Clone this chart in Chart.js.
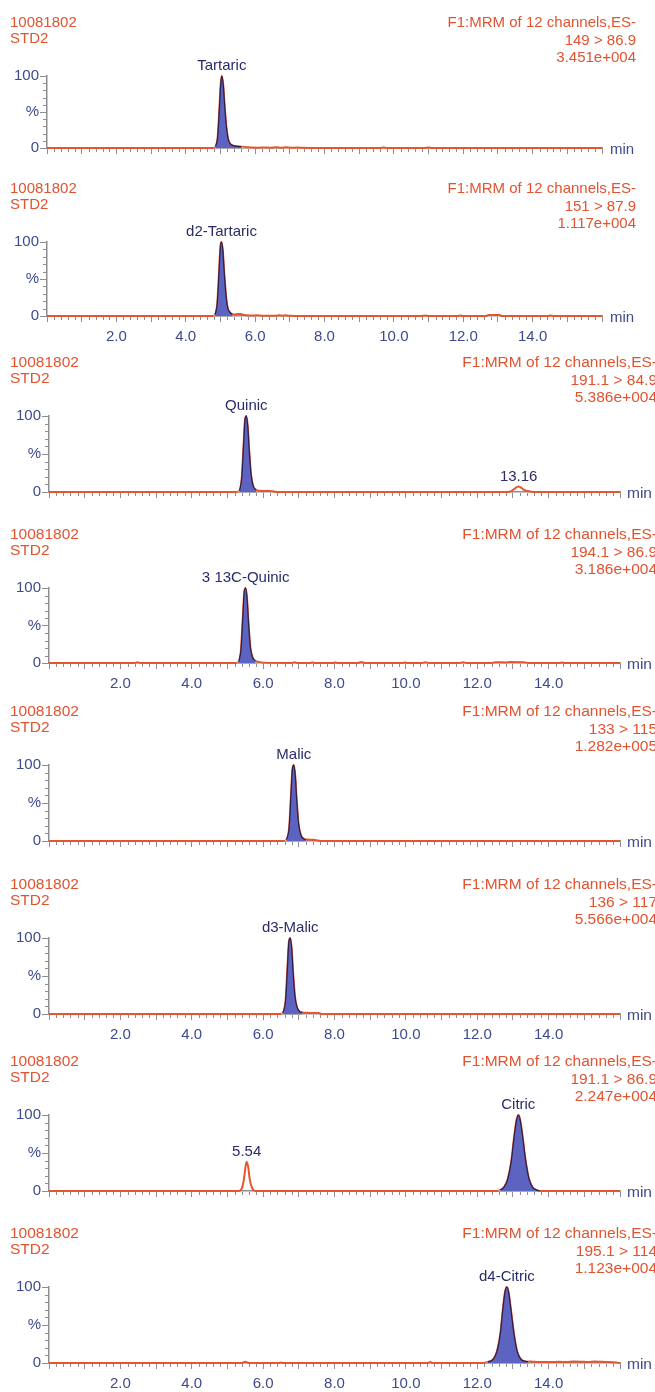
<!DOCTYPE html>
<html>
<head>
<meta charset="utf-8">
<script src="https://cdn.jsdelivr.net/npm/chart.js@4.4.0/dist/chart.umd.min.js"></script>
<style>
  body { margin: 0; background: #fff; width: 655px; height: 1392px; overflow: hidden; position: relative; }
  canvas { position: absolute; left: 0; }
</style>
</head>
<body>
<script>
// Chromatogram data (time in min, response in %)

const sampleName = '10081802'
const sampleId = 'STD2'
const scanTitle = 'F1:MRM of 12 channels,ES-'

const peakNames = ['Tartaric', 'd2-Tartaric', 'Quinic', '3 13C-Quinic', 'Malic', 'd3-Malic', 'Citric', 'd4-Citric']
const transitions = ['149 > 86.9', '151 > 87.9', '191.1 > 84.9', '194.1 > 86.9', '133 > 115', '136 > 117', '191.1 > 86.9', '195.1 > 114']
const intensities = ['3.451e+004', '1.117e+004', '5.386e+004', '3.186e+004', '1.282e+005', '5.566e+004', '2.247e+004', '1.123e+004']

const tartaricTime = [0, 4.80, 4.86, 4.92, 4.97, 5.01, 5.04, 5.08, 5.12, 5.17, 5.22, 5.28, 5.35, 5.45, 5.6, 5.75, 5.9, 6.1, 6.3, 6.45, 6.6, 6.75, 6.9, 7.05, 7.2, 7.35, 7.6, 9.6, 9.7, 9.8, 10.9, 11.0, 11.1, 16]
const tartaricPct = [0, 0, 2, 15, 55, 90, 100, 88, 60, 30, 13, 6, 3.5, 2.5, 1.8, 1.2, 0.6, 0.4, 0.8, 0.3, 0.9, 0.3, 0.9, 0.2, 0.8, 0.2, 0, 0, 0.7, 0, 0, 0.7, 0, 0]

const d2TartaricTime = [0, 4.78, 4.85, 4.91, 4.96, 5.0, 5.03, 5.07, 5.11, 5.16, 5.21, 5.27, 5.34, 5.42, 5.5, 5.58, 5.66, 5.75, 5.9, 6.05, 6.2, 6.35, 6.6, 6.7, 6.8, 6.88, 6.96, 7.05, 7.2, 10.8, 10.9, 11.0, 11.85, 11.92, 12.0, 12.65, 12.72, 13.05, 13.12, 14.45, 14.52, 14.6, 16]
const d2TartaricPct = [0, 0, 2, 18, 60, 94, 100, 88, 58, 28, 11, 5, 2.5, 2, 2.8, 2.6, 1.6, 1, 0.7, 0.9, 0.4, 0.2, 0.2, 0.9, 0.3, 0.9, 0.3, 0.2, 0, 0, 0.8, 0, 0, 0.6, 0, 0, 1.3, 1.3, 0, 0, 0.8, 0, 0]

const quinicTime = [0, 5.26, 5.34, 5.40, 5.45, 5.49, 5.53, 5.57, 5.61, 5.66, 5.72, 5.8, 5.9, 6.0, 6.1, 6.2, 6.3, 6.4, 12.85, 12.95, 13.05, 13.12, 13.16, 13.22, 13.3, 13.38, 13.45, 13.55, 16]
const quinicPct = [0, 0, 2, 18, 60, 94, 100, 86, 55, 24, 8, 3, 1.6, 1.4, 1.5, 1.4, 0.8, 0, 0, 1.2, 4.5, 6.8, 7.2, 6, 3, 1.5, 1, 0, 0]

const c13QuinicTime = [0, 2.4, 2.48, 2.56, 5.24, 5.32, 5.38, 5.43, 5.47, 5.51, 5.55, 5.59, 5.64, 5.7, 5.78, 5.88, 6.0, 6.8, 6.88, 6.96, 7.3, 7.38, 7.46, 7.95, 8.02, 8.1, 8.65, 8.75, 8.85, 9.9, 9.98, 10.06, 10.45, 10.55, 10.65, 11.5, 11.6, 11.7, 12.4, 12.5, 12.8, 12.9, 13.3, 13.45, 14.3, 14.38, 14.46, 16]
const c13QuinicPct = [0, 0, 1, 0, 0, 2, 18, 60, 94, 100, 86, 54, 22, 8, 3, 1.5, 0.5, 0, 0.9, 0, 0, 0.8, 0, 0, 0.6, 0, 0, 1.2, 0, 0, 0.7, 0, 0, 1.1, 0, 0, 0.9, 0, 0, 1, 0.8, 1.2, 1, 0, 0, 0.6, 0, 0]

const malicTime = [0, 6.58, 6.66, 6.73, 6.78, 6.82, 6.86, 6.9, 6.94, 6.99, 7.05, 7.12, 7.2, 7.3, 7.4, 7.5, 7.6, 16]
const malicPct = [0, 0, 2, 18, 60, 94, 100, 86, 55, 24, 9, 3.5, 2, 1.8, 1.6, 1, 0, 0]

const d3MalicTime = [0, 6.48, 6.56, 6.63, 6.68, 6.72, 6.76, 6.8, 6.84, 6.89, 6.95, 7.02, 7.1, 7.25, 7.4, 7.55, 7.65, 16]
const d3MalicPct = [0, 0, 2, 18, 60, 94, 100, 86, 55, 24, 9, 3.5, 2, 1.5, 1.4, 1.2, 0, 0]

const citricTime = [0, 5.32, 5.4, 5.46, 5.51, 5.54, 5.58, 5.63, 5.7, 5.78, 12.55, 12.65, 12.75, 12.85, 12.95, 13.03, 13.1, 13.15, 13.2, 13.27, 13.35, 13.45, 13.55, 13.65, 13.75, 16]
const citricPct = [0, 0, 3, 15, 33, 38, 32, 14, 3, 0, 0, 1.5, 5, 15, 38, 70, 93, 100, 94, 72, 42, 16, 5, 1.5, 0, 0]

const d4CitricTime = [0, 5.4, 5.5, 5.6, 6.45, 6.5, 6.55, 10.6, 10.68, 10.76, 12.15, 12.3, 12.45, 12.55, 12.65, 12.72, 12.78, 12.83, 12.88, 12.95, 13.03, 13.12, 13.22, 13.32, 13.42, 13.5, 13.6, 13.8, 14.0, 14.3, 14.5, 14.7, 14.9, 15.1, 15.3, 15.5, 15.7, 15.9, 16]
const d4CitricPct = [0, 0, 1.5, 0, 0, 0.5, 0, 0, 1.2, 0, 0, 1.5, 5, 15, 40, 72, 94, 100, 93, 68, 38, 15, 5, 2.5, 1.8, 2, 1.5, 1.2, 1.2, 1.5, 1.3, 2, 1.8, 1.2, 2, 1.5, 1.2, 0.5, 0]

// integrated peak start / end (min)
const peakStart = [4.82, 4.8, 5.28, 5.26, 6.6, 6.5, 12.6, 12.25]
const peakEnd = [5.7, 5.35, 5.85, 5.85, 7.2, 7.1, 13.75, 13.45]

// unintegrated peaks labelled with their retention time
const extraPeakPanel = [2, 6]
const extraPeakTime = [13.16, 5.54]

const timeLabels = [2, 4, 6, 8, 10, 12, 14]

const traceTimes = [tartaricTime, d2TartaricTime, quinicTime, c13QuinicTime, malicTime, d3MalicTime, citricTime, d4CitricTime]
const tracePcts = [tartaricPct, d2TartaricPct, quinicPct, c13QuinicPct, malicPct, d3MalicPct, citricPct, d4CitricPct]

// Layout of the eight panels (page pixels)

const panelY100 = [76, 242, 416, 588, 765, 938, 1115, 1287]
const panelY0 = [148, 316, 492, 663, 841, 1014, 1191, 1363]
const panelLeft = [47, 47, 49, 49, 49, 49, 49, 49]
const panelRight = [602, 602, 620, 620, 620, 620, 620, 620]
const showTimeLabels = [false, true, false, true, false, true, false, true]

const FONT = "'Liberation Sans', Arial, sans-serif"
const RED = '#e2532f'
const TRACE = '#e8552c'
const BLUE = '#3d4a8e'
const NAVY = '#2a2c68'
const AXIS = '#8e8e92'
const FILL = '#5c63c0'

const decorations = {
    id: 'decorations',
    afterDraw(chart) {
        const i = chart.options.plugins.decorations.panel
        const wide = i >= 2
        const ctx = chart.ctx
        const x = chart.scales.x
        const y = chart.scales.y
        const area = chart.chartArea
        ctx.save()

        // minor ticks
        ctx.strokeStyle = AXIS
        ctx.lineWidth = 1
        ctx.beginPath()
        for (let k = 0; k <= 80; k++) {
            if (k % 5 === 0) continue
            const px = Math.round(x.getPixelForValue(k * 0.2)) + 0.5
            ctx.moveTo(px, area.bottom + 1)
            ctx.lineTo(px, area.bottom + 4)
        }
        for (let v = 10; v < 100; v += 10) {
            if (v === 50) continue
            const py = Math.round(y.getPixelForValue(v)) + 0.5
            ctx.moveTo(area.left - 4, py)
            ctx.lineTo(area.left, py)
        }
        ctx.stroke()

        // header
        ctx.font = (wide ? '15.5px ' : '15px ') + FONT
        ctx.fillStyle = RED
        ctx.textAlign = 'left'
        ctx.textBaseline = 'alphabetic'
        ctx.fillText(sampleName, 10, area.top - 49)
        ctx.fillText(sampleId, 10, area.top - 33)
        ctx.textAlign = 'right'
        const rx = area.right + (wide ? 37 : 34)
        ctx.fillText(scanTitle, rx, area.top - 49)
        ctx.fillText(transitions[i], rx, area.top - 31)
        ctx.fillText(intensities[i], rx, area.top - 14)

        // "min"
        ctx.font = (wide ? '15.5px ' : '15px ') + FONT
        ctx.fillStyle = BLUE
        ctx.textAlign = 'left'
        ctx.fillText('min', area.right + (wide ? 7 : 8), area.bottom + 6)

        // peak labels
        ctx.font = '15px ' + FONT
        ctx.fillStyle = NAVY
        ctx.textAlign = 'center'
        const t = traceTimes[i], p = tracePcts[i]
        const topOf = (a, b) => {
            let best = 0
            for (let k = 0; k < t.length; k++) if (t[k] >= a && t[k] <= b && p[k] > p[best]) best = k
            return best
        }
        const m = topOf(peakStart[i], peakEnd[i])
        ctx.fillText(peakNames[i], x.getPixelForValue(t[m]), y.getPixelForValue(p[m]) - 6)
        extraPeakPanel.forEach((panel, j) => {
            if (panel !== i) return
            const e = topOf(extraPeakTime[j] - 0.2, extraPeakTime[j] + 0.2)
            ctx.fillText(extraPeakTime[j].toFixed(2), x.getPixelForValue(t[e]), y.getPixelForValue(p[e]) - 6)
        })
        ctx.restore()
    }
}

function drawPanel(i) {
    const top = panelY100[i] - 76
    const height = panelY0[i] + 29 - top
    const canvas = document.createElement('canvas')
    canvas.width = 655
    canvas.height = height
    canvas.style.top = top + 'px'
    document.body.appendChild(canvas)

    const points = traceTimes[i].map((v, k) => ({ x: v, y: tracePcts[i][k] }))
    const peak = points.filter(pt => pt.x >= peakStart[i] && pt.x <= peakEnd[i])

    new Chart(canvas.getContext('2d'), {
        type: 'line',
        data: {
            datasets: [{
                data: peak,
                borderColor: '#2b1f45',
                borderWidth: 1.2,
                backgroundColor: FILL,
                fill: 'origin',
                cubicInterpolationMode: 'monotone',
                pointRadius: 0,
                clip: 8,
                order: 1,
            }, {
                data: [{ x: peakStart[i], y: 0 }, { x: peakEnd[i], y: 0 }],
                borderColor: '#a7a7b2',
                borderWidth: 2,
                pointRadius: 0,
                clip: 8,
                order: 2,
            }, {
                data: points,
                borderColor: TRACE,
                borderWidth: 2,
                fill: false,
                cubicInterpolationMode: 'monotone',
                pointRadius: 0,
                clip: 8,
                order: 3,
            }]
        },
        options: {
            responsive: false,
            animation: false,
            layout: {
                padding: { top: 76, left: panelLeft[i] - 40, right: 655 - panelRight[i], bottom: height - (panelY0[i] - top) - 27 }
            },
            plugins: {
                legend: { display: false },
                tooltip: { enabled: false },
                decorations: { panel: i },
            },
            scales: {
                x: {
                    type: 'linear',
                    min: 0,
                    max: 16,
                    afterFit: s => { s.height = 27 },
                    border: { color: AXIS, width: 1.5 },
                    grid: { drawOnChartArea: false, tickLength: 6, color: AXIS },
                    ticks: {
                        stepSize: 1,
                        autoSkip: false,
                        maxRotation: 0,
                        padding: 6,
                        color: BLUE,
                        font: { family: FONT, size: 15 },
                        callback: v => showTimeLabels[i] && timeLabels.includes(v) ? v.toFixed(1) : '',
                    },
                },
                y: {
                    min: 0,
                    max: 100,
                    afterFit: s => { s.width = 40 },
                    border: { color: AXIS, width: 1.5 },
                    grid: { drawOnChartArea: false, tickLength: 7, color: AXIS },
                    ticks: {
                        stepSize: 50,
                        padding: 1,
                        color: BLUE,
                        font: { family: FONT, size: 15 },
                        callback: v => v === 100 ? '100' : v === 50 ? '%' : '0',
                    },
                },
            },
        },
        plugins: [decorations],
    })
}

for (let i = 0; i < peakNames.length; i++) drawPanel(i)
</script>
</body>
</html>
